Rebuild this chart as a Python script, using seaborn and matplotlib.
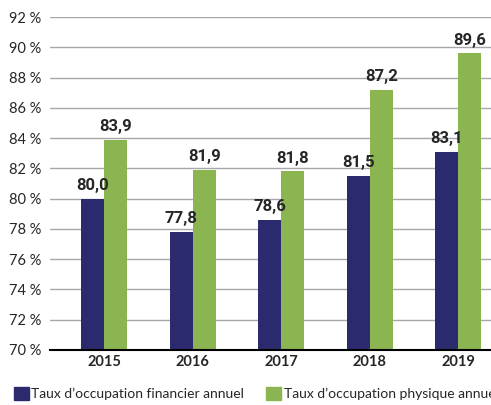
import pandas as pd
import numpy as np
import seaborn as sns
import matplotlib.pyplot as plt

years = ["2015", "2016", "2017", "2018", "2019"]
financier = [80.0, 77.8, 78.6, 81.5, 83.1]
physique = [83.9, 81.9, 81.8, 87.2, 89.6]
series = ["Taux d\u2019occupation financier annuel", "Taux d\u2019occupation physique annuel"]
yticks = list(range(70, 93, 2))

df = pd.DataFrame({
    "annee": years * 2,
    "taux": financier + physique,
    "serie": [series[0]] * 5 + [series[1]] * 5,
})

sns.set_style("white")
plt.rcParams["font.family"] = ["Lato", "DejaVu Sans"]

fig = plt.figure(figsize=(4.91, 4.05), dpi=100)
ax = fig.add_axes([0.102, 0.136, 0.898, 0.822])

pal = ["#2b2a6e", "#8ab550"]
sns.barplot(data=df, x="annee", y="taux", hue="serie", palette=pal,
            width=0.52, gap=0, saturation=1, linewidth=0, edgecolor="none",
            ax=ax, legend=False, zorder=3)

ax.set_ylim(70, 92)
ax.set_yticks(yticks)
ax.set_yticklabels([f"{v} %" for v in yticks], fontsize=10.5)
ax.tick_params(axis="x", labelsize=10.5, length=0, pad=4)
ax.tick_params(axis="y", length=0, pad=6)
for lab in ax.get_xticklabels():
    lab.set_fontweight("bold")
ax.grid(axis="y", color="#a8a8a8", linewidth=1, zorder=0)
ax.set_xlabel("")
ax.set_ylabel("")
for s in ["left", "right", "top"]:
    ax.spines[s].set_visible(False)
ax.spines["bottom"].set_color("black")
ax.spines["bottom"].set_linewidth(1.5)
ax.spines["bottom"].set_zorder(4)
ax.set_xlim(-0.61, 4.37)

for cont, vals in zip(ax.containers, [financier, physique]):
    ax.bar_label(cont, labels=[f"{v:.1f}".replace(".", ",") for v in vals],
                 padding=4, fontsize=12, fontweight="bold", family=["Roboto", "DejaVu Sans"])

handles = [plt.Rectangle((0, 0), 1, 1, color=c) for c in pal]
fig.legend(handles, series, loc="lower left", bbox_to_anchor=(0.028, 0.012), ncol=2,
           frameon=False, fontsize=10, handlelength=1.1, handleheight=1.1,
           handletextpad=0.15, columnspacing=1.6, borderaxespad=0, borderpad=0)

fig.savefig("out.png", dpi=100)
